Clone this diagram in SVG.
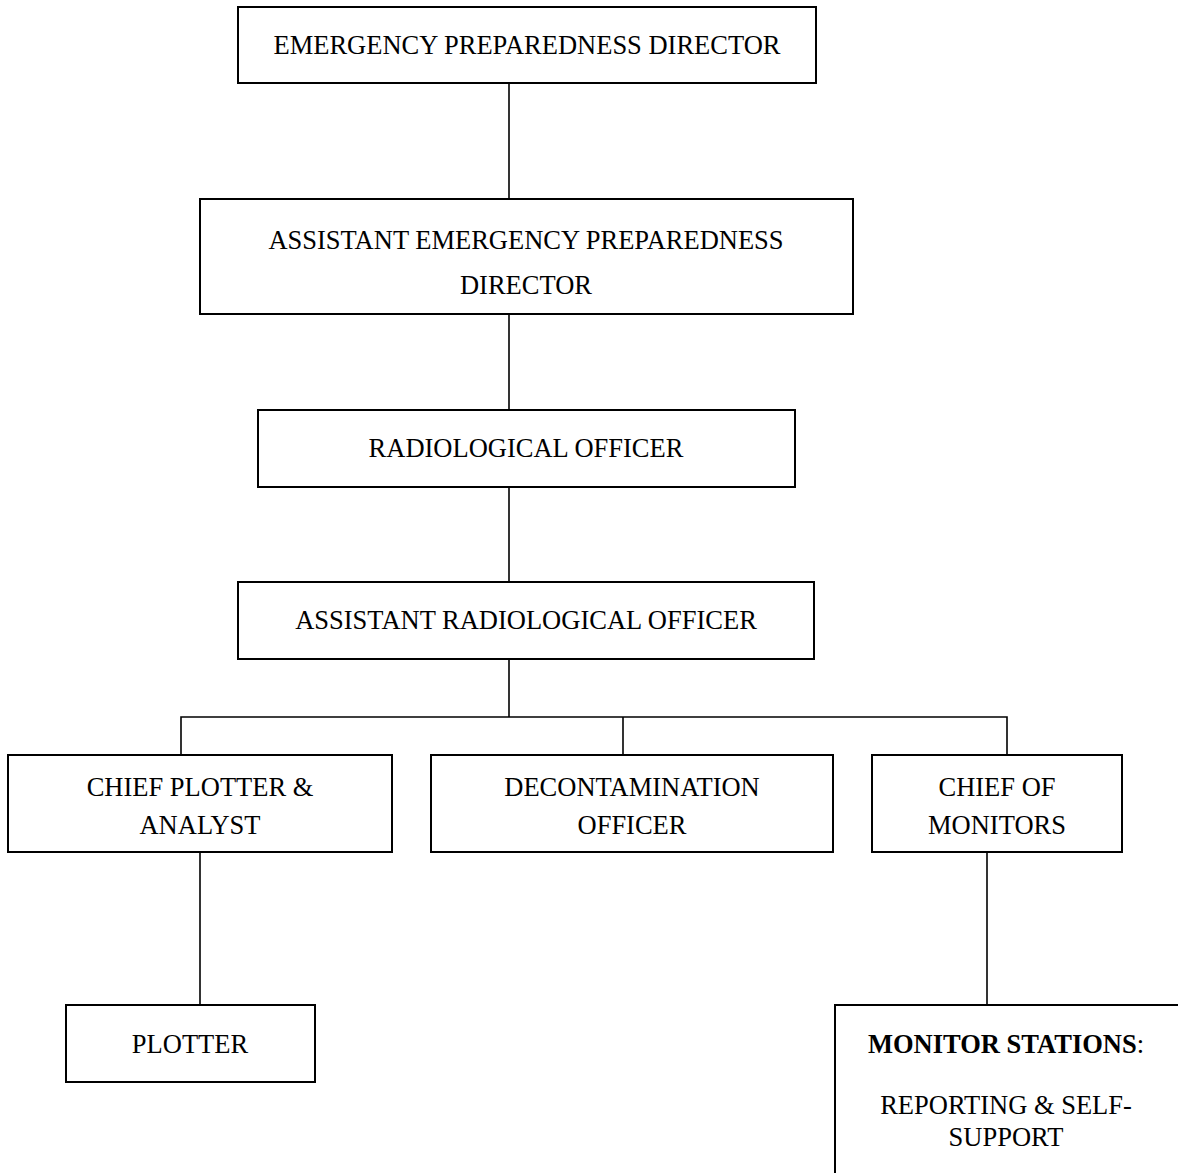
<svg xmlns="http://www.w3.org/2000/svg" width="1178" height="1173" viewBox="0 0 1178 1173">
  <style>
    .box { fill: #ffffff; stroke: #000000; stroke-width: 2; }
    .lbl { font-family: "Liberation Serif", "Times New Roman", serif; font-size: 26.5px; fill: #000000; text-anchor: middle; }
    .b { font-weight: bold; }
    .wire { fill: none; stroke: #000000; stroke-width: 1.6; }
  </style>
  <rect width="1178" height="1173" fill="#ffffff"/>

  <!-- reporting lines -->
  <g id="connectors">
    <line class="wire" x1="509" y1="83" x2="509" y2="199"/>
    <line class="wire" x1="509" y1="314" x2="509" y2="410"/>
    <line class="wire" x1="509" y1="487" x2="509" y2="582"/>
    <line class="wire" x1="509" y1="659" x2="509" y2="717"/>
    <polyline class="wire" points="181,755 181,717 1007,717 1007,755"/>
    <line class="wire" x1="623" y1="717" x2="623" y2="755"/>
    <line class="wire" x1="200" y1="852" x2="200" y2="1005"/>
    <line class="wire" x1="987" y1="852" x2="987" y2="1005"/>
  </g>

  <g id="director">
    <rect class="box" x="238" y="7" width="578" height="76"/>
    <text class="lbl" x="527" y="54">EMERGENCY PREPAREDNESS DIRECTOR</text>
  </g>

  <g id="assistant-director">
    <rect class="box" x="200" y="199" width="653" height="115"/>
    <text class="lbl" x="526" y="249">ASSISTANT EMERGENCY PREPAREDNESS</text>
    <text class="lbl" x="526" y="294">DIRECTOR</text>
  </g>

  <g id="radiological-officer">
    <rect class="box" x="258" y="410" width="537" height="77"/>
    <text class="lbl" x="526" y="457">RADIOLOGICAL OFFICER</text>
  </g>

  <g id="assistant-radiological-officer">
    <rect class="box" x="238" y="582" width="576" height="77"/>
    <text class="lbl" x="526" y="629">ASSISTANT RADIOLOGICAL OFFICER</text>
  </g>

  <g id="chief-plotter">
    <rect class="box" x="8" y="755" width="384" height="97"/>
    <text class="lbl" x="200" y="796">CHIEF PLOTTER &amp;</text>
    <text class="lbl" x="200" y="834">ANALYST</text>
  </g>

  <g id="decontamination-officer">
    <rect class="box" x="431" y="755" width="402" height="97"/>
    <text class="lbl" x="632" y="796">DECONTAMINATION</text>
    <text class="lbl" x="632" y="834">OFFICER</text>
  </g>

  <g id="chief-of-monitors">
    <rect class="box" x="872" y="755" width="250" height="97"/>
    <text class="lbl" x="997" y="796">CHIEF OF</text>
    <text class="lbl" x="997" y="834">MONITORS</text>
  </g>

  <g id="plotter">
    <rect class="box" x="66" y="1005" width="249" height="77"/>
    <text class="lbl" x="190" y="1053">PLOTTER</text>
  </g>

  <g id="monitor-stations">
    <rect class="box" x="835" y="1005" width="360" height="200"/>
    <text class="lbl" x="1006" y="1053"><tspan class="b">MONITOR STATIONS</tspan>:</text>
    <text class="lbl" x="1006" y="1114">REPORTING &amp; SELF-</text>
    <text class="lbl" x="1006" y="1146">SUPPORT</text>
  </g>
</svg>
